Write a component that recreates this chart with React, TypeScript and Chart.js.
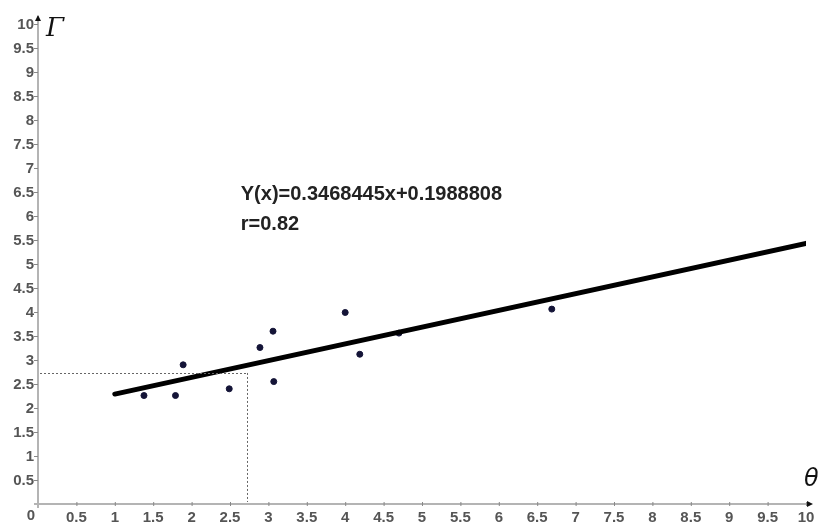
import React, { useEffect, useRef } from "react";
import { Chart, registerables } from "chart.js";

Chart.register(...registerables);

// Observed points (θ, Γ)
const thetaValues = [1.38, 1.79, 1.89, 2.49, 2.89, 3.06, 3.07, 4.0, 4.19, 4.7, 6.69];
const gammaValues = [2.26, 2.26, 2.9, 2.4, 3.26, 3.6, 2.55, 3.99, 3.12, 3.56, 4.06];

// Fitted line end points
const fitX = [1, 10];
const fitY = [2.29, 5.43];

// Dotted guide lines
const guideX = 2.72;
const guideY = 2.73;

// Tick labels
const xTickValues = [0.5, 1, 1.5, 2, 2.5, 3, 3.5, 4, 4.5, 5, 5.5, 6, 6.5, 7, 7.5, 8, 8.5, 9, 9.5, 10];
const xTickLabels = ["0.5", "1", "1.5", "2", "2.5", "3", "3.5", "4", "4.5", "5", "5.5", "6", "6.5", "7", "7.5", "8", "8.5", "9", "9.5", "10"];
const yTickValues = [0.5, 1, 1.5, 2, 2.5, 3, 3.5, 4, 4.5, 5, 5.5, 6, 6.5, 7, 7.5, 8, 8.5, 9, 9.5, 10];
const yTickLabels = ["0.5", "1", "1.5", "2", "2.5", "3", "3.5", "4", "4.5", "5", "5.5", "6", "6.5", "7", "7.5", "8", "8.5", "9", "9.5", "10"];

const equationText = "Y(x)=0.3468445x+0.1988808";
const rText = "r=0.82";
const xAxisName = "θ";
const yAxisName = "Γ";

const axesPlugin = {
  id: "customAxes",
  afterDraw(chart: any) {
    const ctx = chart.ctx;
    const xs = chart.scales.x;
    const ys = chart.scales.y;
    const x0 = xs.getPixelForValue(0);
    const y0 = ys.getPixelForValue(0);
    const xEnd = xs.getPixelForValue(10);
    const yTop = ys.getPixelForValue(10);
    ctx.save();

    // dotted guides
    ctx.strokeStyle = "#666";
    ctx.lineWidth = 1;
    ctx.setLineDash([2, 2]);
    const gx = xs.getPixelForValue(guideX);
    const gy = ys.getPixelForValue(guideY);
    ctx.beginPath();
    ctx.moveTo(x0 + 2, Math.round(gy) + 0.5);
    ctx.lineTo(gx, Math.round(gy) + 0.5);
    ctx.moveTo(Math.round(gx) + 0.5, gy);
    ctx.lineTo(Math.round(gx) + 0.5, y0 - 2);
    ctx.stroke();
    ctx.setLineDash([]);

    // axis lines
    ctx.strokeStyle = "#b4b4b4";
    ctx.lineWidth = 2;
    ctx.beginPath();
    ctx.moveTo(x0, y0 + 4);
    ctx.lineTo(x0, yTop - 8);
    ctx.moveTo(x0 - 4, y0);
    ctx.lineTo(xEnd + 2, y0);
    ctx.stroke();

    // arrows
    ctx.fillStyle = "#111";
    ctx.beginPath();
    ctx.moveTo(xEnd + 7, y0);
    ctx.lineTo(xEnd + 1, y0 - 3);
    ctx.lineTo(xEnd + 1, y0 + 3);
    ctx.closePath();
    ctx.fill();
    ctx.beginPath();
    ctx.moveTo(x0, yTop - 9);
    ctx.lineTo(x0 - 3, yTop - 3);
    ctx.lineTo(x0 + 3, yTop - 3);
    ctx.closePath();
    ctx.fill();

    // ticks and labels
    ctx.fillStyle = "#555";
    ctx.strokeStyle = "#888";
    ctx.lineWidth = 1;
    ctx.font = 'bold 15px "Liberation Sans", Arial, sans-serif';
    ctx.textAlign = "center";
    ctx.textBaseline = "middle";
    xTickValues.forEach((v, i) => {
      const px = xs.getPixelForValue(v);
      ctx.beginPath();
      ctx.moveTo(px + 0.5, y0 - 2);
      ctx.lineTo(px + 0.5, y0 + 2);
      ctx.stroke();
      ctx.fillText(xTickLabels[i], px, y0 + 14);
    });
    ctx.textAlign = "right";
    yTickValues.forEach((v, i) => {
      const py = ys.getPixelForValue(v);
      ctx.beginPath();
      ctx.moveTo(x0 - 4, py + 0.5);
      ctx.lineTo(x0, py + 0.5);
      ctx.stroke();
      ctx.fillText(yTickLabels[i], x0 - 4, py + 0.5);
    });
    ctx.textAlign = "center";
    ctx.fillText("0", x0 - 7, y0 + 12);

    // axis names
    ctx.fillStyle = "#111";
    ctx.font = 'italic 26px "DejaVu Serif", serif';
    ctx.textAlign = "left";
    ctx.textBaseline = "alphabetic";
    ctx.fillText(yAxisName, x0 + 8, yTop + 12);
    ctx.font = 'italic 24px "DejaVu Sans", sans-serif';
    ctx.fillText(xAxisName, xEnd - 2, y0 - 18);

    // equation text
    ctx.fillStyle = "#222";
    ctx.font = 'bold 20px "Liberation Sans", Arial, sans-serif';
    ctx.fillText(equationText, xs.getPixelForValue(2.64), ys.getPixelForValue(6.33));
    ctx.fillText(rText, xs.getPixelForValue(2.64), ys.getPixelForValue(5.71));

    ctx.restore();
  },
};

export default function App() {
  const canvasRef = useRef<HTMLCanvasElement | null>(null);

  useEffect(() => {
    if (!canvasRef.current) return;
    const chart = new Chart(canvasRef.current, {
      type: "scatter",
      data: {
        datasets: [
          {
            type: "line",
            label: "fit",
            data: fitX.map((x, i) => ({ x, y: fitY[i] })),
            borderColor: "#000",
            borderWidth: 5,
            borderCapStyle: "round",
            pointRadius: 0,
            fill: false,
          } as any,
          {
            label: "points",
            data: thetaValues.map((x, i) => ({ x, y: gammaValues[i] })),
            backgroundColor: "#141437",
            borderColor: "#141437",
            pointRadius: 3,
          },
        ],
      },
      options: {
        responsive: false,
        animation: false,
        layout: { padding: { left: 38, right: 16, top: 24, bottom: 20 } },
        plugins: { legend: { display: false }, tooltip: { enabled: false } },
        scales: {
          x: { type: "linear", min: 0, max: 10, display: false },
          y: { type: "linear", min: 0, max: 10, display: false },
        },
      },
      plugins: [axesPlugin],
    });
    return () => chart.destroy();
  }, []);

  return (
    <div style={{ position: "absolute", left: 0, top: 0, width: 822, height: 524, background: "#fff" }}>
      <canvas ref={canvasRef} width={822} height={524} style={{ display: "block" }} />
    </div>
  );
}
